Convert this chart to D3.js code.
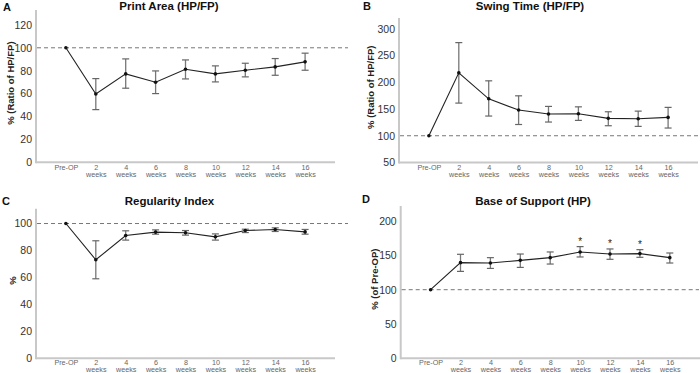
<!DOCTYPE html>
<html><head><meta charset="utf-8">
<script src="https://cdn.jsdelivr.net/npm/d3@7"></script>
<style>body{margin:0;background:#fff}svg{display:block;font-family:Arial,"Liberation Sans",sans-serif}</style>
</head><body>
<svg id="c" width="700" height="373"></svg>
<script>
const categories = ["Pre-OP","2|weeks","4|weeks","6|weeks","8|weeks","10|weeks","12|weeks","14|weeks","16|weeks"];

const printMean = [100, 59.7, 77.2, 69.9, 81.3, 77.2, 80.4, 83.3, 87.7];
const printLow  = [100, 46.0, 64.7, 60.0, 72.8, 70.2, 74.6, 76.0, 80.4];
const printHigh = [100, 73.1, 90.3, 79.8, 89.4, 84.2, 86.5, 90.6, 95.3];
const printTicks = [0, 20, 40, 60, 80, 100, 120];

const swingMean = [100, 217.5, 169, 148, 140.5, 141, 132.5, 131.7, 134.3];
const swingLow  = [100, 161, 136.8, 121, 125.6, 128.7, 118.7, 117.5, 114.4];
const swingHigh = [100, 274, 202.6, 174.6, 154.8, 154, 144.8, 146, 153];
const swingTicks = [50, 100, 150, 200, 250, 300];

const regMean = [100, 73.1, 91.1, 93.6, 93.1, 90.1, 94.8, 95.6, 93.8];
const regLow  = [100, 59.0, 87.7, 92.1, 91.4, 87.7, 93.3, 94.1, 92.1];
const regHigh = [100, 87.2, 94.6, 95.3, 94.8, 92.3, 95.8, 96.8, 95.6];
const regTicks = [0, 20, 40, 60, 80, 100];

const bosMean = [100, 139.4, 138.9, 142.8, 146.7, 155, 152, 152.6, 146.7];
const bosLow  = [100, 126.7, 131, 132.5, 137.4, 147.7, 144.3, 147.2, 138.9];
const bosHigh = [100, 151.6, 146.7, 152, 155, 162.8, 159.4, 158.4, 153.5];
const bosSig  = [false, false, false, false, false, true, true, true, false];
const bosTicks = [0, 50, 100, 150, 200];

const panels = [
  {letter:"A", title:"Print Area (HP/FP)", ylab:"% (Ratio of HP/FP)", mean:printMean, lo:printLow, hi:printHigh, ticks:printTicks,
   dom:[0,133], x0:36, x1:335, yb:162.3, yt:10, lx:3, ly:10.5, tx:169, ty:10, ylx:10, dashEnd:348, lb:7.8},
  {letter:"B", title:"Swing Time (HP/FP)", ylab:"% (Ratio of HP/FP)", mean:swingMean, lo:swingLow, hi:swingHigh, ticks:swingTicks,
   dom:[50,320], x0:399, x1:698, yb:162.5, yt:18, lx:363, ly:10, tx:530, ty:10, ylx:370, dashEnd:699, lb:7.8},
  {letter:"C", title:"Regularity Index", ylab:"%", mean:regMean, lo:regLow, hi:regHigh, ticks:regTicks,
   dom:[0,111], x0:36, x1:335, yb:358.3, yt:208.7, lx:2, ly:204.5, tx:169.5, ty:205, ylx:12, dashEnd:348, lb:7},
  {letter:"D", title:"Base of Support (HP)", ylab:"% (of Pre-OP)", mean:bosMean, lo:bosLow, hi:bosHigh, ticks:bosTicks, sig:bosSig,
   dom:[0,222], x0:400.7, x1:700, yb:358.3, yt:206, lx:362, ly:203, tx:533, ty:204.5, ylx:374, dashEnd:699, lb:7}
];

const svg = d3.select("#c");

panels.forEach(p => {
  const g = svg.append("g");
  const x = d3.scalePoint().domain(categories).range([p.x0, p.x0 + 299]).padding(1);
  const y = d3.scaleLinear().domain(p.dom).range([p.yb, p.yt]);

  const yAxis = d3.axisLeft(y).tickValues(p.ticks).tickSize(0).tickPadding(4);
  const ya = g.append("g").attr("transform", `translate(${p.x0},0)`).call(yAxis);
  ya.select(".domain").remove();
  ya.selectAll("text").attr("font-size", 10.5).attr("fill", "#333").attr("font-family", "Arial, 'Liberation Sans', sans-serif");

  const xAxis = d3.axisBottom(x).tickSize(0).tickFormat("");
  const xa = g.append("g").attr("transform", `translate(0,${p.yb})`).call(xAxis);
  xa.select(".domain").remove();
  xa.selectAll(".tick").each(function(d){
    const parts = d.split("|");
    const t = d3.select(this).append("text").attr("text-anchor","middle")
      .attr("font-size", 7.2).attr("fill","#666").attr("font-family","Arial, 'Liberation Sans', sans-serif");
    parts.forEach((s,i) => t.append("tspan").attr("x",0).attr("y", p.lb + i*6.8).text(s));
  });

  g.append("line").attr("x1", p.x0).attr("x2", p.x0).attr("y1", p.yt).attr("y2", p.yb + 1)
    .attr("stroke", "#c8c8c8").attr("stroke-width", 2);
  g.append("line").attr("x1", p.x0).attr("x2", p.x1).attr("y1", p.yb).attr("y2", p.yb)
    .attr("stroke", "#c8c8c8").attr("stroke-width", 2);

  g.append("line").attr("x1", p.x0 + 1).attr("x2", p.dashEnd).attr("y1", y(100)).attr("y2", y(100))
    .attr("stroke", "#777").attr("stroke-width", 1).attr("stroke-dasharray", "4,3");

  const idx = d3.range(categories.length).filter(i => p.hi[i] !== p.lo[i]);
  g.selectAll(".eb").data(idx).join("line")
    .attr("x1", i => x(categories[i])).attr("x2", i => x(categories[i]))
    .attr("y1", i => y(p.lo[i])).attr("y2", i => y(p.hi[i]))
    .attr("stroke", "#777").attr("stroke-width", 1.3);
  ["hi","lo"].forEach(k => {
    g.selectAll(".cap"+k).data(idx).join("line")
      .attr("x1", i => x(categories[i]) - 3.5).attr("x2", i => x(categories[i]) + 3.5)
      .attr("y1", i => y(p[k][i])).attr("y2", i => y(p[k][i]))
      .attr("stroke", "#666").attr("stroke-width", 1.2);
  });

  const line = d3.line().x((d,i) => x(categories[i])).y(d => y(d));
  g.append("path").attr("d", line(p.mean)).attr("fill","none").attr("stroke","#222").attr("stroke-width",1.1);
  g.selectAll(".pt").data(p.mean).join("circle")
    .attr("cx", (d,i) => x(categories[i])).attr("cy", d => y(d)).attr("r", 1.8).attr("fill", "#111");

  if (p.sig) {
    g.selectAll(".sig").data(d3.range(categories.length).filter(i => p.sig[i])).join("text")
      .attr("x", i => x(categories[i])).attr("y", i => y(p.hi[i]) - 1.5)
      .attr("text-anchor","middle").attr("font-size", 10).attr("fill","#222").text("*");
  }

  g.append("text").attr("x", p.lx).attr("y", p.ly).attr("font-size", 11).attr("font-weight","bold").attr("fill","#111").text(p.letter);
  g.append("text").attr("x", p.tx).attr("y", p.ty).attr("text-anchor","middle").attr("font-size", 11.5)
    .attr("font-weight","bold").attr("fill","#111").text(p.title);
  const cy = (p.yb + p.yt) / 2 - 3;
  g.append("text").attr("transform", `translate(${p.ylx + 3.5},${cy}) rotate(-90)`)
    .attr("text-anchor","middle").attr("font-size", 9.5).attr("font-weight","bold").attr("fill","#222").text(p.ylab);
});
</script>
</body></html>
